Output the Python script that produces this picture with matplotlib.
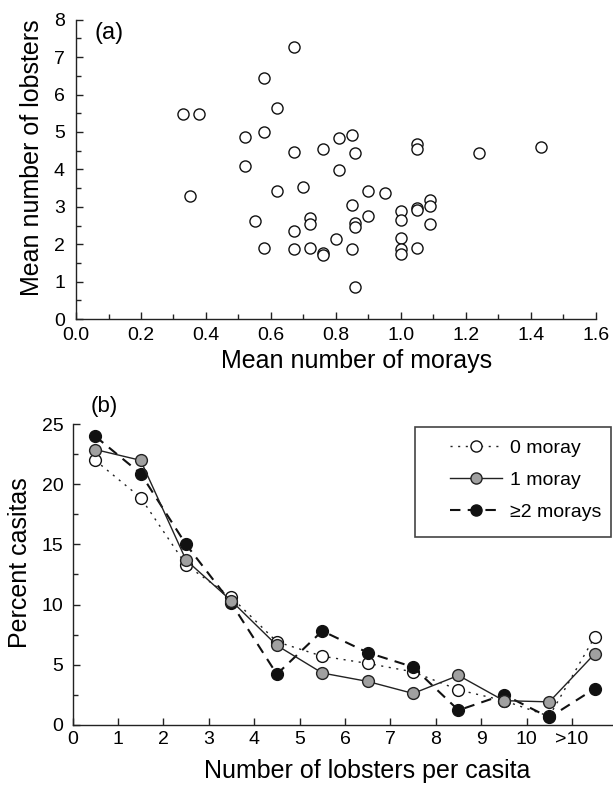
import matplotlib
matplotlib.use("Agg")
import matplotlib.pyplot as plt
from matplotlib.ticker import MultipleLocator, FormatStrFormatter
from matplotlib.lines import Line2D
from matplotlib.patches import Rectangle

plt.rcParams['font.family'] = ['Liberation Sans', 'DejaVu Sans']

# (a) mean morays vs mean lobsters per site
morays = [0.67, 0.58, 0.33, 0.38, 0.62, 0.52, 0.58, 0.67, 0.76, 0.81, 0.85, 0.86,
          1.05, 1.05, 1.24, 1.43, 0.52, 0.81, 0.35, 0.62, 0.70, 0.90, 0.95,
          1.09, 1.09, 1.09, 1.05, 1.05, 1.00, 1.00, 1.00, 1.00, 1.00, 1.05,
          0.85, 0.90, 0.86, 0.86, 0.55, 0.67, 0.72, 0.72, 0.58, 0.67, 0.72,
          0.80, 0.76, 0.76, 0.85, 0.86]
lobsters = [7.28, 6.45, 5.49, 5.49, 5.64, 4.86, 5.00, 4.47, 4.55, 4.83, 4.93, 4.44,
            4.67, 4.55, 4.45, 4.59, 4.08, 3.99, 3.28, 3.43, 3.52, 3.43, 3.37,
            3.18, 3.03, 2.54, 2.97, 2.92, 2.88, 2.65, 2.16, 1.86, 1.74, 1.91,
            3.06, 2.76, 2.56, 2.45, 2.61, 2.35, 2.69, 2.53, 1.90, 1.87, 1.91,
            2.13, 1.76, 1.72, 1.87, 0.87]

# (b) distribution of lobsters per casita
bins = [0.5, 1.5, 2.5, 3.5, 4.5, 5.5, 6.5, 7.5, 8.5, 9.5, 10.5, 11.5]
moray0 = [22.0, 18.9, 13.3, 10.6, 6.9, 5.7, 5.1, 4.4, 2.9, 2.0, 0.7, 7.3]
moray1 = [22.9, 22.0, 13.7, 10.3, 6.6, 4.3, 3.6, 2.6, 4.1, 2.0, 1.9, 5.9]
moray2 = [24.0, 20.9, 15.0, 10.1, 4.2, 7.8, 6.0, 4.8, 1.2, 2.5, 0.6, 3.0]
xtick_labels = ['0', '1', '2', '3', '4', '5', '6', '7', '8', '9', '10', '>10']

DOT = (0, (1.5, 4))
DASH = (0, (5, 3.5))

fig = plt.figure(figsize=(6.13, 7.86), dpi=100)
ax1 = fig.add_axes([0.124, 0.594, 0.848, 0.381])
ax2 = fig.add_axes([0.1183, 0.078, 0.880, 0.3822])

for ax in (ax1, ax2):
    ax.spines['top'].set_visible(False)
    ax.spines['right'].set_visible(False)
    for s in ('left', 'bottom'):
        ax.spines[s].set_linewidth(1.0)
        ax.spines[s].set_color('#222222')
    ax.tick_params(which='major', direction='in', length=5, width=1.0,
                   labelsize=14, color='#222222')
    ax.tick_params(which='minor', direction='in', length=3.5, width=1.0,
                   color='#222222')

# panel (a)
ax1.tick_params(axis='x', pad=6)
ax1.tick_params(axis='y', pad=8)
ax1.plot(morays, lobsters, 'o', ms=8, mfc='white', mec='#111111', mew=1.0,
         clip_on=False)
ax1.set_xlim(0, 1.6)
ax1.set_ylim(0, 8)
ax1.xaxis.set_major_locator(MultipleLocator(0.2))
ax1.xaxis.set_minor_locator(MultipleLocator(0.1))
ax1.yaxis.set_major_locator(MultipleLocator(1))
ax1.yaxis.set_minor_locator(MultipleLocator(0.5))
ax1.xaxis.set_major_formatter(FormatStrFormatter('%.1f'))
ax1.set_xlabel('Mean number of morays', fontsize=18)
ax1.set_ylabel('Mean number of lobsters', fontsize=18)
ax1.xaxis.set_label_coords(0.5406, -0.099)
ax1.yaxis.set_label_coords(-0.0616, 0.54)
ax1.text(0.058, 7.65, '(a)', fontsize=17, ha='left', va='center')

# panel (b)
ax2.tick_params(axis='x', pad=4.5)
ax2.tick_params(axis='y', pad=6.5)
ax2.plot(bins, moray0, linestyle=DOT, color='#222222', lw=1.0,
         marker='o', ms=8.5, mfc='white', mec='#111111', mew=1.0,
         clip_on=False, zorder=3)
ax2.plot(bins, moray2, linestyle=DASH, color='#111111', lw=1.5,
         marker='o', ms=8.5, mfc='#111111', mec='#111111', mew=1.0,
         clip_on=False, zorder=4)
ax2.plot(bins, moray1, linestyle='-', color='#222222', lw=1.0,
         marker='o', ms=8.5, mfc='#a0a0a0', mec='#222222', mew=1.0,
         clip_on=False, zorder=5)
ax2.set_xlim(0, 11.88)
ax2.set_ylim(0, 25)
ax2.set_xticks(range(12))
ax2.set_xticklabels(xtick_labels)
ax2.yaxis.set_major_locator(MultipleLocator(5))
ax2.yaxis.set_minor_locator(MultipleLocator(2.5))
ax2.set_xlabel('Number of lobsters per casita', fontsize=18)
ax2.set_ylabel('Percent casitas', fontsize=18)
ax2.xaxis.set_label_coords(0.546, -0.114)
ax2.yaxis.set_label_coords(-0.075, 0.538)
ax2.text(0.39, 26.5, '(b)', fontsize=16, ha='left', va='center', clip_on=False)

handles = [
    Line2D([], [], linestyle=DOT, color='#222222', lw=1.0, marker='o',
           ms=8, mfc='white', mec='#111111'),
    Line2D([], [], linestyle='-', color='#222222', lw=1.0, marker='o',
           ms=8, mfc='#a0a0a0', mec='#222222'),
    Line2D([], [], linestyle=DASH, color='#111111', lw=1.5, marker='o',
           ms=8, mfc='#111111', mec='#111111'),
]
labels = ['0 moray', '1 moray', '≥2 morays']
fig.legend(handles, labels, loc='upper left', bbox_to_anchor=(440 / 613, 0.4535),
           frameon=False, fontsize=14, handlelength=2.7, handletextpad=0.4,
           labelspacing=0.74, borderpad=0.0)
fig.patches.append(Rectangle((415 / 613, 1 - 537 / 786), 196 / 613, 110 / 786,
                             transform=fig.transFigure, fill=False,
                             edgecolor='#444444', lw=1.2))

fig.savefig('out.png', dpi=100)
